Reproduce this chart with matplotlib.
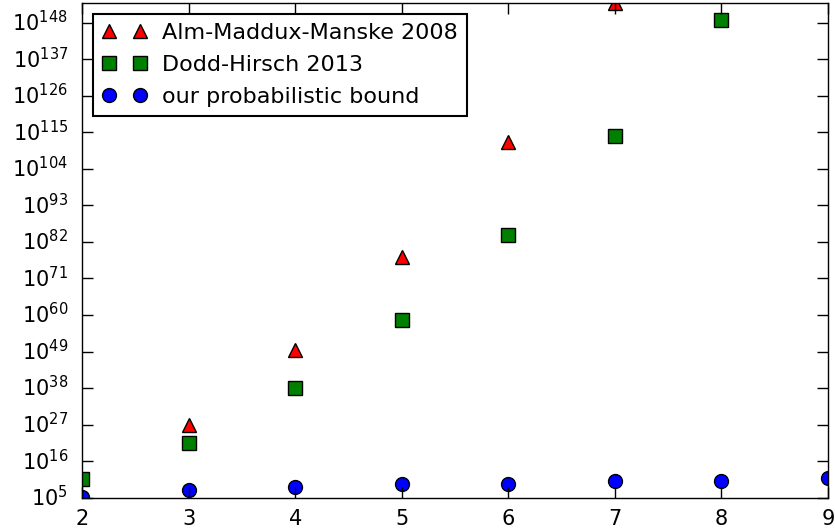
import matplotlib
matplotlib.use("Agg")
import matplotlib.pyplot as plt
from matplotlib.ticker import FixedLocator, LogFormatterMathtext, NullLocator

plt.style.use('classic')

# data (exponents of 10)
k_amm = [3, 4, 5, 6, 7]
exp_amm = [27.0, 49.5, 77.5, 112.2, 154.0]
k_dh = [2, 3, 4, 5, 6, 7, 8]
exp_dh = [10.6, 21.4, 38.0, 58.5, 84.1, 114.0, 148.8]
k_ours = [2, 3, 4, 5, 6, 7, 8, 9]
exp_ours = [5.2, 7.3, 8.3, 9.1, 9.1, 10.0, 10.0, 10.8]

labels = ["Alm-Maddux-Manske 2008", "Dodd-Hirsch 2013", "our probabilistic bound"]
ytick_exps = [5, 16, 27, 38, 49, 60, 71, 82, 93, 104, 115, 126, 137, 148]
xticks = [2, 3, 4, 5, 6, 7, 8, 9]

fig = plt.figure(figsize=(8.35, 5.29), dpi=100, facecolor='white')
ax = fig.add_axes([0.0982, 0.0592, 0.8934, 0.9357])

ax.plot(k_amm, [10.0 ** e for e in exp_amm], '^', color='r', ms=10, mew=1, label=labels[0])
ax.plot(k_dh, [10.0 ** e for e in exp_dh], 's', color='g', ms=10, mew=1, label=labels[1])
ax.plot(k_ours, [10.0 ** e for e in exp_ours], 'o', color='b', ms=10, mew=1, label=labels[2])

ax.set_yscale('log')
ax.set_xlim(2, 9)
ax.set_ylim(1e5, 1e154)
ax.yaxis.set_major_locator(FixedLocator([10.0 ** e for e in ytick_exps]))
ax.yaxis.set_major_formatter(LogFormatterMathtext())
ax.yaxis.set_minor_locator(NullLocator())
ax.set_xticks(xticks)
ax.tick_params(labelsize=15, direction='in', length=8, width=1)
ax.tick_params(axis='y', pad=10)
ax.tick_params(axis='x', pad=8)

leg = ax.legend(loc='upper left', numpoints=2, fontsize=16, fancybox=False,
                borderaxespad=0.5, handlelength=2.0, handletextpad=0.7,
                labelspacing=0.55)
leg.get_frame().set_edgecolor('black')
leg.get_frame().set_linewidth(1.5)

ax.set_facecolor('white')
fig.savefig('out.png', dpi=100, facecolor='white')
